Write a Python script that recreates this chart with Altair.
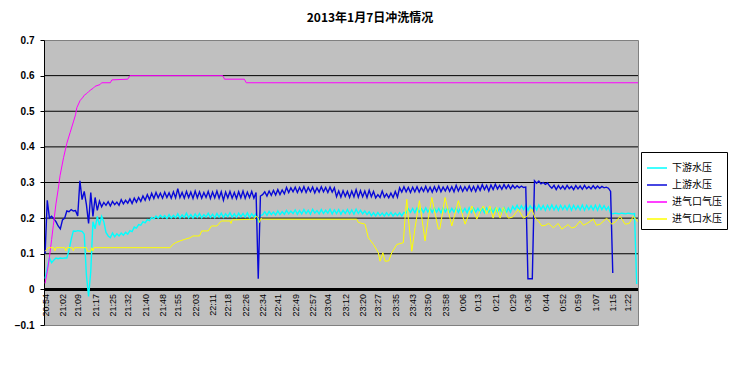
import altair as alt
import pandas as pd

chart_title = "2013年1月7日冲洗情况"
series_names = ["下游水压", "上游水压", "进气口气压", "进气口水压"]
series_colors = ["#00FFFF", "#0808D8", "#FF00FF", "#FFFF00"]

time_labels = ["20:54", "21:02", "21:09", "21:17", "21:25", "21:32", "21:40", "21:48",
               "21:55", "22:03", "22:11", "22:18", "22:26", "22:34", "22:41", "22:49",
               "22:57", "23:04", "23:12", "23:20", "23:27", "23:35", "23:43", "23:50",
               "23:58", "0:06", "0:13", "0:21", "0:29", "0:36", "0:44", "0:52",
               "0:59", "1:07", "1:15", "1:22"]
y_ticks = [-0.1, 0.0, 0.1, 0.2, 0.3, 0.4, 0.5, 0.6, 0.7]
grid_values = [0.1, 0.2, 0.3, 0.4, 0.5, 0.6]

# 下游水压: one reading per minute from 20:54
cyan_values = [
    0.030, 0.060, 0.088, 0.075, 0.082, 0.088, 0.086, 0.088, 0.087, 0.088,
    0.088, 0.110, 0.140, 0.164, 0.163, 0.165, 0.164, 0.163, 0.155, 0.040,
    -0.020, 0.050, 0.190, 0.170, 0.205, 0.180, 0.205, 0.190, 0.160, 0.150,
    0.145, 0.158, 0.148, 0.156, 0.150, 0.158, 0.152, 0.160, 0.155, 0.165,
    0.162, 0.175, 0.172, 0.182, 0.180, 0.190, 0.187, 0.196, 0.193, 0.202,
    0.198, 0.206, 0.200, 0.208, 0.201, 0.207, 0.199, 0.210, 0.200, 0.208,
    0.201, 0.212, 0.200, 0.209, 0.202, 0.214, 0.201, 0.210, 0.200, 0.212,
    0.202, 0.213, 0.201, 0.210, 0.203, 0.214, 0.202, 0.211, 0.201, 0.213,
    0.203, 0.214, 0.202, 0.212, 0.204, 0.215, 0.203, 0.212, 0.202, 0.214,
    0.204, 0.213, 0.203, 0.215, 0.202, 0.212, 0.204, 0.213, 0.192, 0.208,
    0.209, 0.218, 0.208, 0.219, 0.210, 0.217, 0.209, 0.220, 0.210, 0.218,
    0.211, 0.222, 0.212, 0.220, 0.213, 0.223, 0.211, 0.221, 0.212, 0.224,
    0.213, 0.222, 0.211, 0.225, 0.214, 0.221, 0.212, 0.224, 0.213, 0.222,
    0.214, 0.225, 0.212, 0.223, 0.213, 0.224, 0.211, 0.222, 0.213, 0.224,
    0.212, 0.223, 0.211, 0.225, 0.213, 0.222, 0.212, 0.220, 0.210, 0.218,
    0.207, 0.215, 0.206, 0.216, 0.207, 0.214, 0.206, 0.215, 0.207, 0.216,
    0.206, 0.214, 0.207, 0.215, 0.206, 0.216, 0.214, 0.226, 0.216, 0.227,
    0.215, 0.228, 0.217, 0.226, 0.216, 0.229, 0.217, 0.227, 0.216, 0.228,
    0.217, 0.227, 0.215, 0.229, 0.217, 0.228, 0.216, 0.227, 0.217, 0.229,
    0.216, 0.228, 0.217, 0.227, 0.215, 0.229, 0.216, 0.228, 0.217, 0.227,
    0.216, 0.228, 0.215, 0.229, 0.217, 0.226, 0.216, 0.228, 0.217, 0.227,
    0.216, 0.229, 0.215, 0.228, 0.217, 0.233, 0.224, 0.236, 0.223, 0.235,
    0.224, 0.237, 0.222, 0.235, 0.225, 0.236, 0.223, 0.237, 0.224, 0.235,
    0.222, 0.236, 0.224, 0.237, 0.223, 0.235, 0.222, 0.236, 0.224, 0.235,
    0.223, 0.237, 0.222, 0.236, 0.224, 0.235, 0.223, 0.237, 0.222, 0.236,
    0.224, 0.235, 0.223, 0.236, 0.222, 0.237, 0.224, 0.235, 0.223, 0.232,
    0.214, 0.212, 0.214, 0.213, 0.212, 0.214, 0.213, 0.212, 0.214, 0.213,
    0.212, 0.213, 0.015,
]

# 上游水压: one reading per minute from 20:54
blue_values = [
    0.100, 0.250, 0.200, 0.205, 0.198, 0.190, 0.178, 0.170, 0.195, 0.200,
    0.220, 0.218, 0.224, 0.220, 0.221, 0.206, 0.305, 0.252, 0.275, 0.238,
    0.185, 0.272, 0.205, 0.258, 0.222, 0.248, 0.232, 0.244, 0.236, 0.246,
    0.234, 0.247, 0.238, 0.245, 0.236, 0.252, 0.240, 0.250, 0.242, 0.254,
    0.241, 0.256, 0.245, 0.258, 0.247, 0.262, 0.250, 0.266, 0.252, 0.270,
    0.255, 0.272, 0.257, 0.270, 0.256, 0.273, 0.258, 0.271, 0.256, 0.274,
    0.257, 0.283, 0.258, 0.272, 0.256, 0.275, 0.258, 0.273, 0.255, 0.276,
    0.257, 0.274, 0.256, 0.272, 0.258, 0.275, 0.255, 0.273, 0.257, 0.276,
    0.256, 0.274, 0.250, 0.273, 0.257, 0.275, 0.256, 0.272, 0.255, 0.274,
    0.257, 0.276, 0.256, 0.273, 0.258, 0.275, 0.256, 0.272, 0.030, 0.262,
    0.266, 0.274, 0.262, 0.276, 0.264, 0.278, 0.265, 0.280, 0.266, 0.279,
    0.268, 0.286, 0.272, 0.285, 0.274, 0.287, 0.272, 0.286, 0.273, 0.288,
    0.272, 0.286, 0.274, 0.287, 0.271, 0.285, 0.273, 0.288, 0.274, 0.286,
    0.272, 0.287, 0.273, 0.285, 0.260, 0.276, 0.259, 0.277, 0.261, 0.275,
    0.258, 0.276, 0.260, 0.280, 0.259, 0.277, 0.260, 0.276, 0.258, 0.278,
    0.260, 0.275, 0.257, 0.266, 0.258, 0.276, 0.259, 0.268, 0.257, 0.270,
    0.258, 0.275, 0.259, 0.285, 0.273, 0.288, 0.274, 0.286, 0.272, 0.287,
    0.274, 0.288, 0.273, 0.286, 0.275, 0.289, 0.274, 0.287, 0.273, 0.288,
    0.275, 0.290, 0.274, 0.287, 0.276, 0.289, 0.275, 0.288, 0.274, 0.292,
    0.276, 0.289, 0.275, 0.288, 0.277, 0.290, 0.276, 0.289, 0.275, 0.291,
    0.278, 0.294, 0.280, 0.292, 0.276, 0.293, 0.280, 0.295, 0.282, 0.292,
    0.281, 0.294, 0.283, 0.293, 0.282, 0.292, 0.284, 0.291, 0.285, 0.290,
    0.286, 0.287, 0.030, 0.030, 0.030, 0.305, 0.298, 0.304, 0.296, 0.300,
    0.295, 0.299, 0.290, 0.284, 0.292, 0.280, 0.291, 0.282, 0.290, 0.281,
    0.292, 0.283, 0.289, 0.280, 0.291, 0.282, 0.290, 0.281, 0.292, 0.283,
    0.289, 0.282, 0.291, 0.283, 0.290, 0.284, 0.289, 0.285, 0.287, 0.284,
    0.275, 0.046,
]

# 进气口气压
magenta_minutes = [0, 1, 2, 3, 3.8, 5, 6, 6.9, 8.5, 10, 11.5, 13, 14, 14.6, 16.1, 17.5,
                   18, 19.2, 20, 21, 22.2, 23, 25.3, 26, 30, 30.7, 38, 39, 81.7, 82.5,
                   91.6, 92.5, 272.6]
magenta_values = [0.017, 0.05, 0.09, 0.14, 0.18, 0.24, 0.28, 0.32, 0.37, 0.41, 0.44, 0.47,
                  0.49, 0.51, 0.53, 0.54, 0.545, 0.55, 0.555, 0.56, 0.565, 0.57, 0.575,
                  0.58, 0.58, 0.588, 0.59, 0.60, 0.60, 0.59, 0.59, 0.58, 0.58]

# 进气口水压
yellow_minutes = [0, 1.5, 4, 4.5, 5, 9, 9.5, 10, 12.5, 13, 13.5, 19, 19.5, 21, 21.5, 22,
                  22.5, 57.5, 58.5, 60, 62, 64, 66.7, 68, 71, 72, 75, 76.5, 79, 81, 85,
                  85.5, 86, 96, 97, 98, 98.6, 99.3, 100, 143.3, 144, 147.1, 148.6, 151,
                  153.2, 154, 155.3, 156.3, 158, 159.4, 161.7, 164.7, 165.5, 166.3, 167,
                  168.6, 170.1, 172.1, 174.7, 176.2, 177.8, 180.8, 181.5, 183.9, 187,
                  190, 193.1, 196.2, 198.5, 200, 201.5, 203, 204.5, 206, 207.5, 209.2,
                  210.7, 213, 215, 217.6, 219.9, 221.5, 223.8, 225.3, 226.8, 228.4, 230,
                  231.5, 233.7, 235.9, 237.5, 240.5, 242, 243.7, 246, 247.5, 249.1,
                  252.1, 253.5, 255.2, 258.2, 260.5, 262.3, 264.4, 266.7, 268.5, 270.5,
                  272.5]
yellow_values = [0.107, 0.117, 0.117, 0.108, 0.117, 0.117, 0.108, 0.117, 0.117, 0.108,
                 0.117, 0.117, 0.107, 0.107, 0.117, 0.108, 0.117, 0.117, 0.125, 0.131,
                 0.136, 0.140, 0.145, 0.150, 0.150, 0.164, 0.164, 0.178, 0.178, 0.192,
                 0.192, 0.185, 0.195, 0.197, 0.206, 0.200, 0.188, 0.200, 0.197, 0.197,
                 0.188, 0.183, 0.145, 0.126, 0.103, 0.079, 0.103, 0.079, 0.080, 0.103,
                 0.126, 0.131, 0.200, 0.253, 0.200, 0.107, 0.173, 0.249, 0.136, 0.200,
                 0.258, 0.169, 0.170, 0.258, 0.178, 0.249, 0.183, 0.234, 0.197, 0.220,
                 0.234, 0.211, 0.234, 0.200, 0.230, 0.200, 0.230, 0.200, 0.203, 0.225,
                 0.200, 0.205, 0.225, 0.200, 0.192, 0.178, 0.180, 0.185, 0.173, 0.185,
                 0.169, 0.182, 0.172, 0.175, 0.192, 0.180, 0.185, 0.197, 0.180, 0.183,
                 0.200, 0.183, 0.190, 0.205, 0.183, 0.185, 0.205, 0.190]

START = 20 * 60 + 54


def to_minutes(label):
    h, m = label.split(":")
    return (int(h) * 60 + int(m) - START) % 1440


tick_minutes = [to_minutes(s) for s in time_labels]

cyan_df = pd.DataFrame({"t": list(range(len(cyan_values))), "v": cyan_values, "s": series_names[0]})
blue_df = pd.DataFrame({"t": list(range(len(blue_values))), "v": blue_values, "s": series_names[1]})
mag_df = pd.DataFrame({"t": magenta_minutes, "v": magenta_values, "s": series_names[2]})
yel_df = pd.DataFrame({"t": yellow_minutes, "v": yellow_values, "s": series_names[3]})
grid_df = pd.DataFrame({"v": grid_values})
zero_df = pd.DataFrame({"v": [0.0]})

W, H = 594, 285
x_scale = alt.Scale(domain=[-0.5, 272.6], nice=False, zero=False)
y_scale = alt.Scale(domain=[-0.1, 0.7], nice=False, zero=False)

x_enc = alt.X("t:Q", scale=x_scale, axis=alt.Axis(
    values=tick_minutes,
    labelExpr="floor((1254 + datum.value) / 60) % 24 + ':' + (((1254 + datum.value) % 60) < 10 ? '0' : '') + ((1254 + datum.value) % 60)",
    labelAngle=270, labelAlign="right", labelBaseline="middle",
    labelFont="Liberation Sans", labelFontSize=9, labelColor="#000000",
    labelPadding=4, ticks=False, domain=False, grid=False,
    offset=-H * 0.1 / 0.8, labelOverlap=False, labelFlush=False, title=None))

y_enc = alt.Y("v:Q", scale=y_scale, axis=alt.Axis(
    values=y_ticks,
    labelExpr="datum.value == 0 ? '0' : format(datum.value, '.1f')",
    labelFont="Liberation Sans", labelFontSize=10, labelFontWeight="bold",
    labelColor="#000000", labelPadding=6, domainColor="#000000",
    tickColor="#000000", tickSize=4, grid=False, title=None))

color_enc = alt.Color("s:N", scale=alt.Scale(domain=series_names, range=series_colors),
                      legend=alt.Legend(orient="none", legendX=597, legendY=112, title=None,
                                        symbolType="stroke", symbolSize=400,
                                        symbolStrokeWidth=1.5,
                                        labelFont="Noto Sans CJK SC", labelFontSize=10,
                                        labelColor="#000000",
                                        fillColor="white", strokeColor="black",
                                        padding=5, rowPadding=1, labelLimit=200))

grid = alt.Chart(grid_df).mark_rule(color="black", strokeWidth=1).encode(y=y_enc)
zero = alt.Chart(zero_df).mark_rule(color="black", strokeWidth=3).encode(y=y_enc)


def line(df, width=1.0):
    return alt.Chart(df).mark_line(strokeWidth=width, clip=True).encode(
        x=x_enc, y=y_enc, color=color_enc)


chart = alt.layer(
    grid, zero, line(cyan_df, 1.4), line(blue_df, 1.4), line(mag_df), line(yel_df)
).properties(
    width=W, height=H,
    title=alt.TitleParams(chart_title, font="Noto Sans CJK SC", fontSize=12,
                          fontWeight="bold", anchor="middle", dx=29, offset=10,
                          color="black"),
    autosize=alt.AutoSizeParams(type="none"),
    padding={"left": 36, "top": 32, "right": 98, "bottom": 37},
).configure(
    background="white",
    view=alt.ViewConfig(fill="#C0C0C0", stroke="#808080", strokeWidth=1),
)

chart.save("out.html", embed_options={"renderer": "svg", "actions": False})
